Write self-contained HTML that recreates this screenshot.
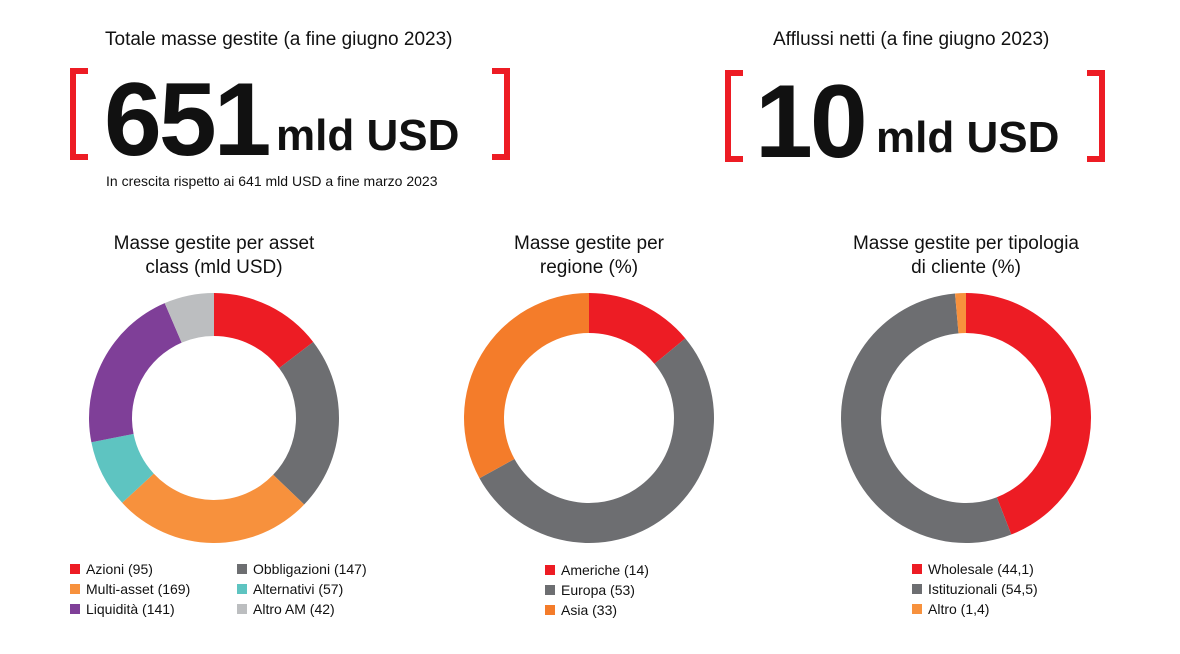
<!DOCTYPE html>
<html><head><meta charset="utf-8"><style>
body{margin:0;background:#fff;font-family:"Liberation Sans",sans-serif;color:#111}
#root{position:relative;width:1180px;height:654px;overflow:hidden}
.t{position:absolute;white-space:nowrap}
.br{position:absolute;width:12px;height:80px;border:6px solid #ed1c24}
.bl{border-right:none}.brr{border-left:none}
.big{font-weight:bold;font-size:104px;letter-spacing:-3px;line-height:1}
.unit{font-weight:bold;font-size:44px;line-height:1}
.ttl{font-size:19px;text-align:center;line-height:24px}
.lg{position:absolute;font-size:14px;display:flex;align-items:center;white-space:nowrap}
.lg i{display:inline-block;width:10px;height:10px;margin-right:6px}
</style></head><body><div id="root">
<div class="t ttl" style="left:105px;top:28px">Totale masse gestite (a fine giugno 2023)</div>
<div class="br bl" style="left:70px;top:68px"></div>
<div class="t big" style="left:104px;top:68px">651</div>
<div class="t unit" style="left:276px;top:114px">mld USD</div>
<div class="br brr" style="left:492px;top:68px"></div>
<div class="t" style="left:106px;top:173px;font-size:14px">In crescita rispetto ai 641 mld USD a fine marzo 2023</div>
<div class="t ttl" style="left:773px;top:28px">Afflussi netti (a fine giugno 2023)</div>
<div class="br bl" style="left:725px;top:70px"></div>
<div class="t big" style="left:755px;top:70px">10</div>
<div class="t unit" style="left:876px;top:116px">mld USD</div>
<div class="br brr" style="left:1087px;top:70px"></div>
<div class="t ttl" style="left:64px;top:232px;width:300px">Masse gestite per asset<br>class (mld USD)</div>
<div class="t ttl" style="left:439px;top:232px;width:300px">Masse gestite per<br>regione (%)</div>
<div class="t ttl" style="left:816px;top:232px;width:300px">Masse gestite per tipologia<br>di cliente (%)</div>
<svg id="svg" width="1180" height="654" style="position:absolute;left:0;top:0"></svg>
<div id="legends"></div>
</div>
<script>
const assetLabels=["Azioni","Obbligazioni","Multi-asset","Alternativi","Liquidità","Altro AM"];
const assetValues=[95,147,169,57,141,42];
const assetColors=["#ed1c24","#6d6e71","#f7913d","#5ec4c1","#7f3f98","#bcbec0"];
const regionLabels=["Americhe","Europa","Asia"];
const regionValues=[14,53,33];
const regionColors=["#ed1c24","#6d6e71","#f47c2a"];
const clientLabels=["Wholesale","Istituzionali","Altro"];
const clientValues=[44.1,54.5,1.4];
const clientValueText=["44,1","54,5","1,4"];
const clientColors=["#ed1c24","#6d6e71","#f7913d"];
const svg=document.getElementById('svg');const NS="http://www.w3.org/2000/svg";
function pt(cx,cy,r,a){return [cx+r*Math.sin(a),cy-r*Math.cos(a)];}
function donut(cx,cy,R,r,vals,cols,name){
 const tot=vals.reduce((a,b)=>a+b,0);let a0=0;
 vals.forEach((v,i)=>{const a1=a0+v/tot*2*Math.PI;const lg=(a1-a0)>Math.PI?1:0;
  const p1=pt(cx,cy,R,a0),p2=pt(cx,cy,R,a1),p3=pt(cx,cy,r,a1),p4=pt(cx,cy,r,a0);
  const p=document.createElementNS(NS,'path');
  p.setAttribute('d',`M${p1}A${R},${R} 0 ${lg} 1 ${p2}L${p3}A${r},${r} 0 ${lg} 0 ${p4}Z`);
  p.setAttribute('fill',cols[i]);
  
  
  svg.appendChild(p);a0=a1;});
}
donut(214,418,125,82,assetValues,assetColors,'asset');
donut(589,418,125,85,regionValues,regionColors,'region');
donut(966,418,125,85,clientValues,clientColors,'client');
const L=document.getElementById('legends');
function leg(x,y,col,txt){const d=document.createElement('div');d.className='lg';d.style.left=x+'px';d.style.top=y+'px';
 d.innerHTML='<i style="background:'+col+'"></i>'+txt;
 
 
 L.appendChild(d);}
const aPos=[[70,561],[237,561],[70,581],[237,581],[70,601],[237,601]];
const aOrder=[0,1,2,3,4,5];
[[0,0],[1,1],[2,2],[3,3],[4,4],[5,5]];
leg(70,561,assetColors[0],assetLabels[0]+' ('+assetValues[0]+')');
leg(237,561,assetColors[1],assetLabels[1]+' ('+assetValues[1]+')');
leg(70,581,assetColors[2],assetLabels[2]+' ('+assetValues[2]+')');
leg(237,581,assetColors[3],assetLabels[3]+' ('+assetValues[3]+')');
leg(70,601,assetColors[4],assetLabels[4]+' ('+assetValues[4]+')');
leg(237,601,assetColors[5],assetLabels[5]+' ('+assetValues[5]+')');
regionLabels.forEach((l,i)=>leg(545,562+i*20,regionColors[i],l+' ('+regionValues[i]+')'));
clientLabels.forEach((l,i)=>leg(912,561+i*20,clientColors[i],l+' ('+clientValueText[i]+')'));
</script></body></html>
